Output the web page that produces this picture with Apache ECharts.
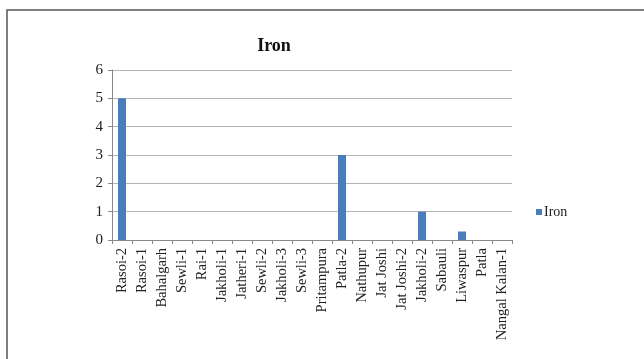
<!DOCTYPE html>
<html>
<head>
<meta charset="utf-8">
<script src="https://cdn.jsdelivr.net/npm/echarts@6/dist/echarts.min.js"></script>
<style>
  html, body { margin: 0; padding: 0; background: #fff; }
  #chart { width: 644px; height: 359px; }
</style>
</head>
<body>
<div id="chart"></div>
<script>
// Iron concentration by sampling site
const sites = ['Rasoi-2', 'Rasoi-1', 'Bahalgarh', 'Sewli-1', 'Rai-1', 'Jakholi-1', 'Jatheri-1',
  'Sewli-2', 'Jakholi-3', 'Sewli-3', 'Pritampura', 'Patla-2', 'Nathupur', 'Jat Joshi',
  'Jat Joshi-2', 'Jakholi-2', 'Sabauli', 'Liwaspur', 'Patla', 'Nangal Kalan-1'];
const ironValues = [5, 0, 0, 0, 0, 0, 0, 0, 0, 0, 0, 3, 0, 0, 0, 1, 0, 0.3, 0, 0];
const yTicks = { min: 0, max: 6, interval: 1 };

const font = '"Liberation Serif", "Times New Roman", serif';
const chart = echarts.init(document.getElementById('chart'));
chart.setOption({
  animation: false,
  backgroundColor: '#fff',
  graphic: [{
    type: 'rect',
    shape: { x: 7, y: 10, width: 700, height: 400 },
    style: { fill: 'none', stroke: '#555', lineWidth: 1.5 }
  }],
  title: {
    text: 'Iron',
    left: 269, top: 32, textAlign: 'center',
    textStyle: { fontFamily: font, fontSize: 18, fontWeight: 'bold', color: '#111' }
  },
  legend: {
    data: ['Iron'],
    left: 531, top: 200,
    itemWidth: 6, itemHeight: 6, itemGap: 4,
    icon: 'rect',
    textStyle: { fontFamily: font, fontSize: 14, color: '#222', padding: [0, 0, 0, -3] }
  },
  grid: { left: 112, right: 132, top: 70, bottom: 119, containLabel: false },
  xAxis: {
    type: 'category',
    data: sites,
    boundaryGap: true,
    axisLine: { lineStyle: { color: '#888', width: 1 } },
    axisTick: { show: true, length: 4, lineStyle: { color: '#888' } },
    axisLabel: {
      rotate: 90, interval: 0, margin: 8,
      fontFamily: font, fontSize: 14.5, color: '#222'
    }
  },
  yAxis: {
    type: 'value',
    min: yTicks.min, max: yTicks.max, interval: yTicks.interval,
    axisLine: { show: true, lineStyle: { color: '#888', width: 1 } },
    axisTick: { show: true, length: 4, lineStyle: { color: '#888' } },
    axisLabel: { margin: 9, fontFamily: font, fontSize: 15, color: '#222' },
    splitLine: { lineStyle: { color: '#b4b4b4', width: 1 } }
  },
  series: [{
    name: 'Iron',
    type: 'bar',
    data: ironValues,
    barWidth: 8,
    itemStyle: { color: '#4a7ebb' }
  }]
});
</script>
</body>
</html>
